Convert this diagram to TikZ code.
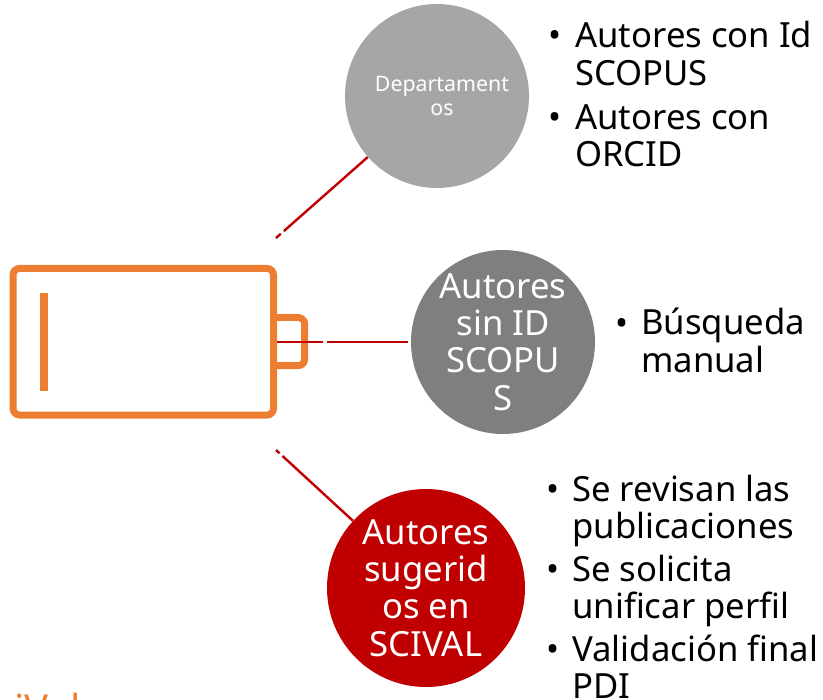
\documentclass[tikz,border=0pt]{standalone}
\usepackage{fontspec}
\setmainfont{Noto Sans}
\definecolor{cOrange}{HTML}{ED7D31}
\definecolor{cRed}{HTML}{C00000}
\definecolor{cLight}{HTML}{A6A6A6}
\definecolor{cMid}{HTML}{7F7F7F}
\newcommand{\fs}[2]{\fontsize{#1pt}{#2pt}\selectfont}
\tikzset{
  x=0.75pt,y=-0.75pt,
  hub/.style={circle,inner sep=-12pt,align=center,text=white},
  link/.style={draw=cRed,line width=1.8pt},
  batt/.style={draw=cOrange,line width=5.2pt,rounded corners=5pt},
  bul/.style={anchor=base west,inner sep=0pt,align=left,text=black,font=\fs{26}{28.2}},
  dot/.style={anchor=base west,inner sep=0pt,text=black,font=\fs{26}{28.2}}
}
\begin{document}
\begin{tikzpicture}
\useasboundingbox (0,0) rectangle (823,699);
\clip (0,0) rectangle (823,699);
% battery
\draw[batt] (272,317.5) -- (304.7,317.5) -- (304.7,365.7) -- (272,365.7);
\node[batt,minimum width=195.4pt,minimum height=110pt,inner sep=0pt,outer sep=0pt,fill=white] (body) at (143.3,341.7) {};
\node[fill=cOrange,inner sep=0pt,minimum width=5.6pt,minimum height=73.5pt] (bar) at (44,342) {};
% circles
\node[hub,fill=cLight,minimum size=138pt,font=\fs{16}{17.5}] (dep) at (437,96) {\hspace*{7.5pt}Departament\\\hspace*{7.5pt}os};
\node[hub,fill=cMid,minimum size=138pt,font=\fs{26}{28}] (sin) at (503,342) {Autores\\sin ID\\SCOPU\\S};
\node[hub,fill=cRed,minimum size=148.5pt,font=\fs{26}{28}] (sug) at (426,588) {Autores\\sugerid\\os en\\SCIVAL};
% connector ends
\coordinate (e1) at (276,238);
\coordinate (e2) at (277,342);
\coordinate (e3) at (276,450);
\draw[link,dash pattern=on 4.8pt off 3pt on 200pt] (e1) -- (dep);
\draw[link,dash pattern=on 34.5pt off 3pt on 200pt,shorten >=2pt] (e2) -- (sin);
\draw[link,dash pattern=on 3.6pt off 3pt on 200pt] (e3) -- (sug);
% lists
\node[dot] (b1) at (548,48) {•};
\node[bul] (t1) at (575,85.6) {Autores con Id\\SCOPUS};
\node[dot] (b2) at (548,129) {•};
\node[bul] (t2) at (575,166.6) {Autores con\\ORCID};
\node[dot] (b3) at (615,335) {•};
\node[bul] (t3) at (641,372) {Búsqueda\\manual};
\node[dot] (b4) at (546,501) {•};
\node[bul] (t4) at (572,538.6) {Se revisan las\\publicaciones};
\node[dot] (b5) at (546,581) {•};
\node[bul] (t5) at (572,618.6) {Se solicita\\unificar perfil};
\node[dot] (b6) at (546,661) {•};
\node[bul] (t6) at (572,698.6) {Validación final\\PDI};
% cropped footer
\node[anchor=base west,inner sep=0pt,text=cOrange,font=\fs{30}{32}] (sv) at (-27,723) {SciVal};
\end{tikzpicture}
\end{document}
